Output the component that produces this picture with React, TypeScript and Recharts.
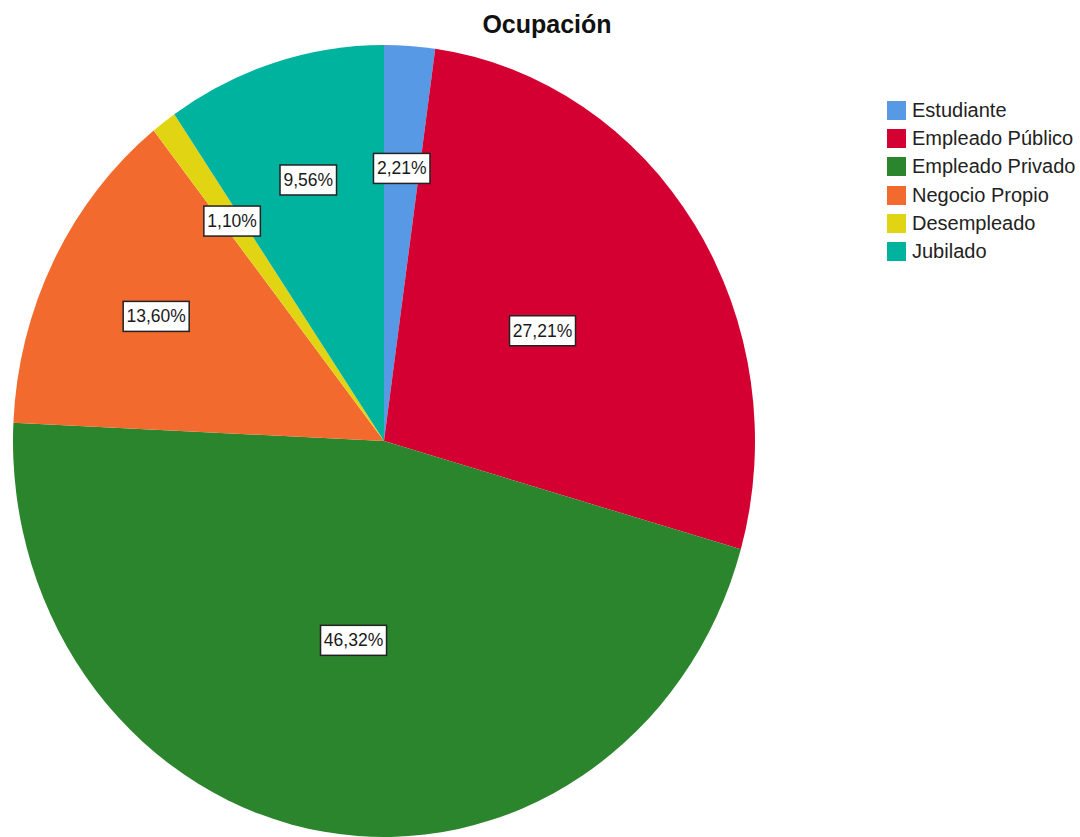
import React from 'react';
import { PieChart, Pie, Cell, Legend } from 'recharts';

const categories = ['Estudiante', 'Empleado Público', 'Empleado Privado', 'Negocio Propio', 'Desempleado', 'Jubilado'];
const counts = [6, 74, 126, 37, 3, 26];
const colors = ['#5899E6', '#D50032', '#2A852C', '#F26A2D', '#E1D513', '#00B39F'];

const data = categories.map((name, i) => ({ name, value: counts[i] }));

const RAD = Math.PI / 180;
// the original pie is slightly taller than wide
const RX = 371;
const RY = 396;

const EllipseSector = (props: any) => {
  const { cx, cy, startAngle, endAngle, fill } = props;
  const x0 = cx + RX * Math.cos(-startAngle * RAD);
  const y0 = cy + RY * Math.sin(-startAngle * RAD);
  const x1 = cx + RX * Math.cos(-endAngle * RAD);
  const y1 = cy + RY * Math.sin(-endAngle * RAD);
  const large = Math.abs(endAngle - startAngle) > 180 ? 1 : 0;
  const sweep = endAngle < startAngle ? 1 : 0;
  const d = `M${cx},${cy} L${x0},${y0} A${RX},${RY} 0 ${large} ${sweep} ${x1},${y1} Z`;
  return <path d={d} fill={fill} stroke="none" />;
};

const renderLabel = (props: any) => {
  const { cx, cy, midAngle, percent } = props;
  const k = percent > 0.2 ? 0.51 : 0.69;
  const x = cx + RX * k * Math.cos(-midAngle * RAD);
  const y = cy + RY * k * Math.sin(-midAngle * RAD);
  const txt = (percent * 100).toFixed(2).replace('.', ',') + '%';
  const w = txt.length * 9.5 + 9;
  const h = 30;
  return (
    <g>
      <rect x={x - w / 2} y={y - h / 2} width={w} height={h} fill="#fff" stroke="#222" strokeWidth={1.5} />
      <text x={x} y={y + 6} textAnchor="middle" fontSize={17.5} fill="#1a1a1a"
        fontFamily="'Liberation Sans', Arial, sans-serif">{txt}</text>
    </g>
  );
};

// legend drawn in the data order, like the source
const renderLegend = () => (
  <div>
    {categories.map((name, i) => (
      <div key={name} style={{ display: 'flex', alignItems: 'center', height: 28.3, whiteSpace: 'nowrap' }}>
        <span style={{ display: 'inline-block', flex: 'none', width: 19, height: 19, background: colors[i], marginRight: 6 }} />
        <span style={{ fontSize: 20, color: '#222', fontFamily: "'Liberation Sans', Arial, sans-serif" }}>{name}</span>
      </div>
    ))}
  </div>
);

export default function App() {
  return (
    <div style={{ position: 'absolute', left: 0, top: 0, width: 1080, height: 837, background: '#fff' }}>
      <div style={{
        position: 'absolute', left: 397, top: 10, width: 300, textAlign: 'center',
        fontFamily: "'Liberation Sans', Arial, sans-serif", fontWeight: 'bold', fontSize: 25, color: '#111', zIndex: 2,
      }}>
        Ocupación
      </div>
      <PieChart width={1080} height={837} margin={{ top: 0, right: 0, bottom: 0, left: 0 }}>
        <Pie
          data={data}
          dataKey="value"
          nameKey="name"
          cx={384}
          cy={441}
          outerRadius={RX}
          startAngle={90}
          endAngle={-270}
          stroke="none"
          shape={EllipseSector}
          label={renderLabel}
          labelLine={false}
          isAnimationActive={false}
        >
          {data.map((d, i) => (
            <Cell key={d.name} fill={colors[i]} />
          ))}
        </Pie>
        <Legend
          layout="vertical"
          align="right"
          verticalAlign="middle"
          content={renderLegend}
          wrapperStyle={{ left: 887, top: 96, width: 193, right: 'auto' }}
        />
      </PieChart>
    </div>
  );
}
